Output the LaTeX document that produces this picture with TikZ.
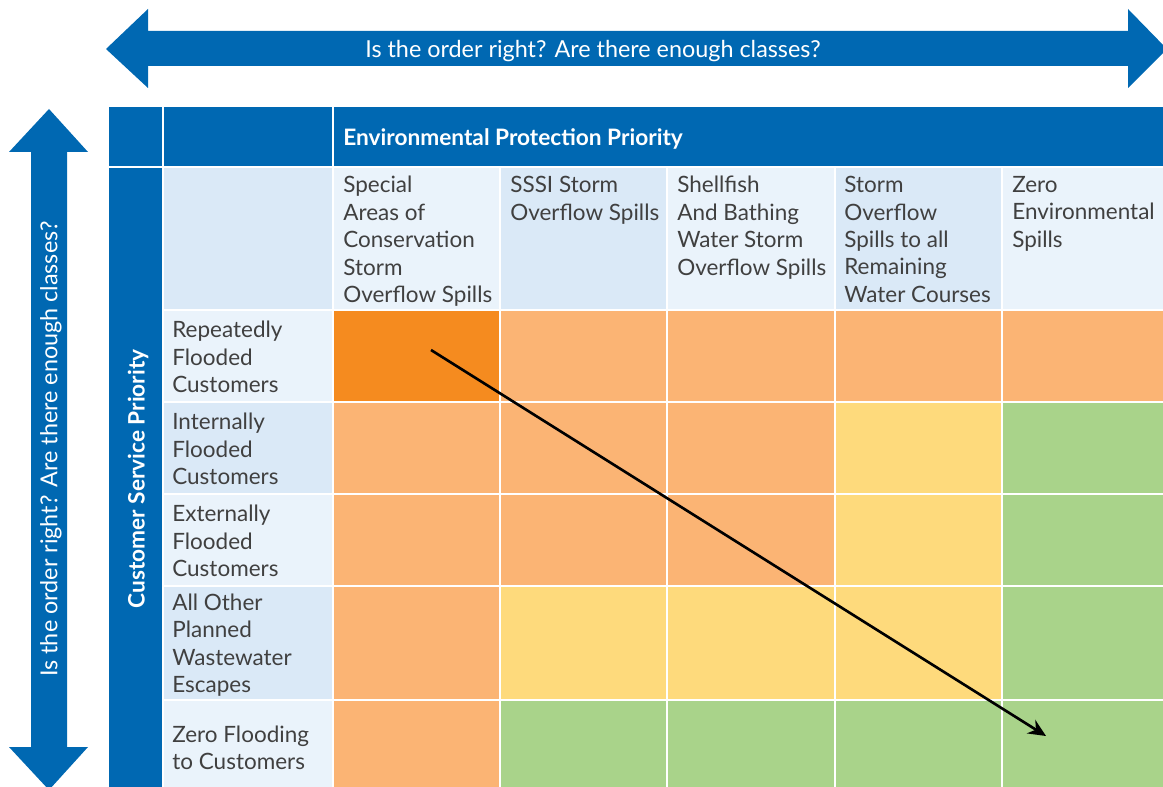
\documentclass[tikz,border=0pt]{standalone}
\usepackage{fontspec}
\setmainfont{Lato}
\usetikzlibrary{arrows.meta}
\definecolor{wsblue}{RGB}{0,104,178}
\definecolor{hdlight}{RGB}{234,243,251}
\definecolor{hddark}{RGB}{218,233,247}
\definecolor{odark}{RGB}{245,139,31}
\definecolor{olight}{RGB}{251,180,116}
\definecolor{ylw}{RGB}{254,218,124}
\definecolor{grn}{RGB}{169,211,138}
\definecolor{txtgray}{RGB}{64,64,64}

\begin{document}
\begin{tikzpicture}[x=0.02cm, y=-0.02cm,
  sep/.style={draw=white, line width=1.2pt},
  celltext/.style={text=txtgray, align=left, inner sep=0pt, font=\fontsize{12.8}{15.6}\selectfont},
  headtext/.style={text=white, inner sep=0pt, font=\bfseries\fontsize{12.9}{15.6}\selectfont},
  arrowtext/.style={text=white, inner sep=0pt, font=\fontsize{13.3}{15.6}\selectfont},
  trend/.style={-{Stealth[length=10pt,width=9pt]}, line width=1.5pt, black}]
  \useasboundingbox (0,0) rectangle (1163,787);

  \fill[wsblue] (106,49) -- (148,9) -- (148,31) -- (1128,31) -- (1128,9) -- (1167,49)
    -- (1128,88) -- (1128,66) -- (148,66) -- (148,88) -- cycle;
  \node[arrowtext] (topq) at (593,51) {Is the order right? Are there enough classes?};
  \fill[wsblue] (49,109) -- (88,152) -- (67,152) -- (67,747) -- (88,747) -- (49,790)
    -- (9,747) -- (31,747) -- (31,152) -- (9,152) -- cycle;
  \node[arrowtext, rotate=90] (sideq) at (51,449) {Is the order right? Are there enough classes?};

  \path[fill=wsblue, sep] (108,106) rectangle (163,167);
  \path[fill=wsblue, sep] (163,106) rectangle (333,167);
  \path[fill=wsblue, sep] (333,106) rectangle (1170,167);
  \path[fill=wsblue, sep] (108,167) rectangle (163,790);
  \path[fill=hddark, sep] (163,167) rectangle (333,310);
  \foreach \xa/\xb/\c in {333/500/hdlight, 500/667/hddark, 667/835/hdlight, 835/1002/hddark, 1002/1170/hdlight}
    \path[fill=\c, sep] (\xa,167) rectangle (\xb,310);
  \foreach \ya/\yb/\c in {310/402/hdlight, 402/494/hddark, 494/586/hdlight, 586/700/hddark, 700/790/hdlight}
    \path[fill=\c, sep] (163,\ya) rectangle (333,\yb);
  \foreach \ya/\yb/\ca/\cb/\cc/\cd/\ce in {310/402/odark/olight/olight/olight/olight,
      402/494/olight/olight/olight/ylw/grn, 494/586/olight/olight/olight/ylw/grn,
      586/700/olight/ylw/ylw/ylw/grn, 700/790/olight/grn/grn/grn/grn} {
    \path[fill=\ca, sep] (333,\ya) rectangle (500,\yb);
    \path[fill=\cb, sep] (500,\ya) rectangle (667,\yb);
    \path[fill=\cc, sep] (667,\ya) rectangle (835,\yb);
    \path[fill=\cd, sep] (835,\ya) rectangle (1002,\yb);
    \path[fill=\ce, sep] (1002,\ya) rectangle (1170,\yb);
  }

  \node[headtext, anchor=west] (envp) at (343,139) {Environmental Protection Priority};
  \node[headtext, rotate=90] (custp) at (138,479) {Customer Service Priority};

  \node[celltext, anchor=north west] (sac) at (343,176) {Special\\Areas of\\Conservation\\Storm\\Overflow Spills};
  \node[celltext, anchor=north west] (sssi) at (510,176) {SSSI Storm\\Overflow Spills};
  \node[celltext, anchor=north west] (shell) at (677,176) {Shellfish\\And Bathing\\Water Storm\\Overflow Spills};
  \node[celltext, anchor=north west] (remain) at (844,176) {Storm\\Overflow\\Spills to all\\Remaining\\Water Courses};
  \node[celltext, anchor=north west] (zeroenv) at (1012,176) {Zero\\Environmental\\Spills};

  \node[celltext, anchor=west] (repeat) at (172,357) {Repeatedly\\Flooded\\Customers};
  \node[celltext, anchor=west] (intern) at (172,449) {Internally\\Flooded\\Customers};
  \node[celltext, anchor=west] (extern) at (172,541) {Externally\\Flooded\\Customers};
  \node[celltext, anchor=west] (other) at (172,645) {All Other\\Planned\\Wastewater\\Escapes};
  \node[celltext, anchor=west] (zeroflood) at (172,748) {Zero Flooding\\to Customers};

  \coordinate (worst) at (431,350);
  \coordinate (best) at (1046,736);
  \draw[trend] (worst) -- (best);
\end{tikzpicture}
\end{document}
